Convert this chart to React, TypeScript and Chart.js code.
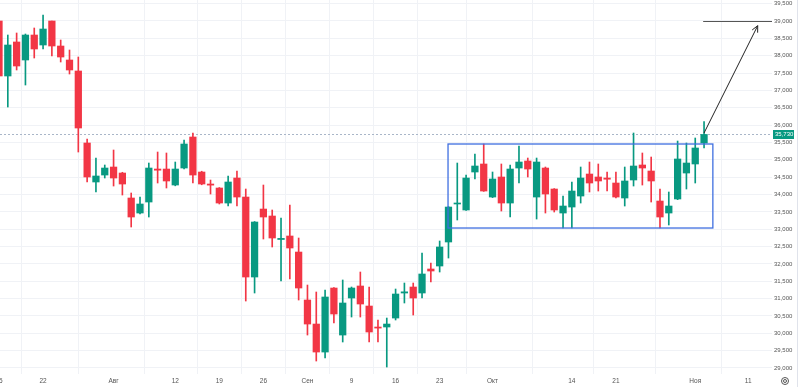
import React, { useEffect, useRef } from "react";
import { Chart, registerables } from "chart.js";
Chart.register(...registerables);

// ---- data (trading-day index 0 = 15 Jul) ----
const opens = [
  39000, 37415, 38395, 37876, 38596, 38308, 39000, 38279, 37876, 37559,
  35484, 34360, 34561, 34792, 34619, 33899, 33466, 33783, 34734, 34734,
  34273, 34763, 35657, 34648, 34302, 34187, 33754, 34475, 33927, 31622,
  33581, 33380, 32703, 32804, 32342, 30959, 30267, 29460, 31305, 29950,
  31017, 31363, 30786, 30181, 30181, 30440, 31161, 31334, 31161, 31853,
  31939, 32631, 33726, 33553, 34648, 34879, 33927, 34504, 33754, 34763,
  34965, 33927, 34763, 34158, 33466, 33639, 33956, 34590, 34504, 34475,
  34331, 33899, 34418, 34850, 34677, 33812, 33466, 33870, 34619, 34879,
  35484,
];
const highs = [
  39050, 38596, 38654, 38625, 38798, 39173, 39000, 38452, 38164, 37962,
  35599, 35051, 34850, 35282, 34640, 34043, 33927, 34907, 35224, 35196,
  34936, 35570, 35772, 34670, 34417, 34200, 34533, 34677, 34158, 33220,
  34273, 33553, 33322, 33697, 32746, 31391, 31190, 31247, 31320, 31536,
  31334, 31766, 31334, 30383, 30440, 31276, 31449, 31449, 32314, 32025,
  32660, 33650, 34907, 34561, 35167, 35455, 34648, 34879, 34850, 35397,
  35051, 35051, 34792, 34170, 33956, 34360, 34792, 34936, 34879, 34648,
  34648, 34792, 35772, 35196, 35080, 34158, 34072, 35541, 35484, 35628,
  36100,
];
const lows = [
  37350, 36521, 37588, 37155, 37933, 38193, 37991, 37818, 37472, 35224,
  34360, 34072, 34475, 34244, 33985, 33063, 33440, 33351, 34331, 34187,
  34250, 34740, 34331, 34280, 34014, 33726, 33668, 33668, 30930, 31161,
  32717, 32487, 31507, 31564, 30959, 29950, 29201, 29287, 30296, 29749,
  30469, 30469, 29749, 29749, 29028, 30383, 30873, 30527, 31017, 31478,
  31766, 32169, 33265, 33540, 34446, 34090, 33910, 33524, 33351, 34331,
  34504, 33293, 33466, 33495, 33034, 33034, 33754, 34072, 34100, 34100,
  33899, 33668, 34244, 34273, 33783, 33034, 33121, 33850, 34158, 34331,
  35340,
];
const closes = [
  37415, 38308, 37703, 38596, 38193, 38769, 38279, 37962, 37588, 35916,
  34504, 34533, 34763, 34475, 34302, 33351, 33726, 34763, 34700, 34389,
  34734, 35455, 34561, 34302, 34270, 33754, 34360, 33927, 31622, 33207,
  33351, 32746, 32735, 32458, 31305, 30267, 29460, 31046, 30556, 30873,
  31305, 30844, 30037, 30150, 30267, 31132, 31195, 31017, 31709, 31795,
  32487, 33639, 33755, 34475, 34821, 34100, 34446, 33754, 34734, 34936,
  34734, 34936, 34014, 33553, 33668, 34100, 34475, 34331, 34389, 34440,
  33927, 34389, 34821, 34763, 34389, 33351, 33668, 35023, 34907, 35340,
  35730,
];

const tickIndex = [0, 5, 13, 20, 25, 30, 35, 40, 45, 50, 56, 65, 70, 79, 85];
const tickLabels = ["15", "22", "Авг", "12", "19", "26", "Сен", "9", "16", "23", "Окт", "14", "21", "Ноя", "11"];
const priceTicks = [
  29000, 29500, 30000, 30500, 31000, 31500, 32000, 32500, 33000, 33500, 34000,
  34500, 35000, 35500, 36000, 36500, 37000, 37500, 38000, 38500, 39000, 39500,
];
const lastPrice = 35730;
const rangeBoxX = [50.95, 81.0];
const rangeBoxY = [35455, 33034];
const targetPrice = 39000;
const targetStartX = 79.9;
const arrowFrom = [80.0, 35772];
const arrowTo = [86.09, 38865];

const UP = "#089981";
const DOWN = "#f23645";
const FONT = "'Liberation Sans', Arial, sans-serif";

export default function App() {
  const ref = useRef<HTMLCanvasElement | null>(null);

  useEffect(() => {
    const canvas = ref.current;
    if (!canvas) return;
    const colors = opens.map((o, i) => (closes[i] >= o ? UP : DOWN));
    const bodies = opens.map((o, i) => ({ x: i, y: [o, closes[i]] }));
    const wicks = lows.map((l, i) => ({ x: i, y: [l, highs[i]] }));

    const overlay = {
      id: "overlay",
      beforeDatasetsDraw(chart: any) {
        const { ctx, chartArea, scales } = chart;
        const y = scales.y.getPixelForValue(lastPrice);
        ctx.save();
        ctx.strokeStyle = "#a9b6c8";
        ctx.lineWidth = 1;
        ctx.setLineDash([2, 2]);
        ctx.beginPath();
        ctx.moveTo(chartArea.left, Math.round(y) + 0.5);
        ctx.lineTo(chartArea.right, Math.round(y) + 0.5);
        ctx.stroke();
        ctx.restore();
      },
      afterDatasetsDraw(chart: any) {
        const { ctx, chartArea, scales } = chart;
        const sx = scales.x, sy = scales.y;
        ctx.save();
        const bx1 = sx.getPixelForValue(rangeBoxX[0]);
        const bx2 = sx.getPixelForValue(rangeBoxX[1]);
        const by1 = sy.getPixelForValue(rangeBoxY[0]);
        const by2 = sy.getPixelForValue(rangeBoxY[1]);
        ctx.strokeStyle = "#3f6fe0";
        ctx.lineWidth = 1.3;
        ctx.strokeRect(bx1, by1, bx2 - bx1, by2 - by1);
        const ty = sy.getPixelForValue(targetPrice);
        ctx.strokeStyle = "#555";
        ctx.lineWidth = 1;
        ctx.beginPath();
        ctx.moveTo(sx.getPixelForValue(targetStartX), Math.round(ty) + 0.5);
        ctx.lineTo(chartArea.right, Math.round(ty) + 0.5);
        ctx.stroke();
        const ax1 = sx.getPixelForValue(arrowFrom[0]);
        const ay1 = sy.getPixelForValue(arrowFrom[1]);
        const ax2 = sx.getPixelForValue(arrowTo[0]);
        const ay2 = sy.getPixelForValue(arrowTo[1]);
        ctx.strokeStyle = "#222";
        ctx.lineWidth = 1;
        ctx.beginPath();
        ctx.moveTo(ax1, ay1);
        ctx.lineTo(ax2, ay2);
        const ang = Math.atan2(ay2 - ay1, ax2 - ax1);
        const L = 7;
        ctx.moveTo(ax2 - L * Math.cos(ang - 0.45), ay2 - L * Math.sin(ang - 0.45));
        ctx.lineTo(ax2, ay2);
        ctx.lineTo(ax2 - L * Math.cos(ang + 0.45), ay2 - L * Math.sin(ang + 0.45));
        ctx.stroke();
        ctx.restore();
      },
      afterDraw(chart: any) {
        const { ctx, chartArea, scales } = chart;
        const y = scales.y.getPixelForValue(lastPrice);
        ctx.save();
        ctx.fillStyle = UP;
        ctx.fillRect(chartArea.right + 1, Math.round(y) - 4, 21, 9);
        ctx.fillStyle = "#fff";
        ctx.font = `6px ${FONT}`;
        ctx.textBaseline = "middle";
        ctx.textAlign = "left";
        ctx.fillText(lastPrice.toLocaleString("en-US"), chartArea.right + 3, Math.round(y) + 0.5);
        ctx.strokeStyle = "#e0e3eb";
        ctx.lineWidth = 1;
        ctx.beginPath();
        ctx.moveTo(797.5, 0);
        ctx.lineTo(797.5, 387);
        ctx.stroke();
        ctx.strokeStyle = "#555";
        ctx.beginPath();
        ctx.arc(785, 381, 3.5, 0, Math.PI * 2);
        ctx.stroke();
        ctx.beginPath();
        ctx.arc(785, 381, 1.5, 0, Math.PI * 2);
        ctx.stroke();
        ctx.restore();
      },
    };

    const chart = new Chart(canvas, {
      type: "bar",
      data: {
        datasets: [
          {
            data: bodies as any,
            backgroundColor: colors,
            borderWidth: 0,
            barThickness: 6.6,
            minBarLength: 1,
            grouped: false,
            order: 1,
          } as any,
          {
            data: wicks as any,
            backgroundColor: colors,
            borderWidth: 0,
            barThickness: 1,
            grouped: false,
            order: 2,
          } as any,
        ],
      },
      plugins: [overlay],
      options: {
        animation: false,
        responsive: false,
        devicePixelRatio: 1,
        layout: { padding: 0, autoPadding: false },
        plugins: { legend: { display: false }, tooltip: { enabled: false } },
        scales: {
          x: {
            type: "linear",
            min: 0.1135,
            max: 87.71,
            offset: false,
            afterBuildTicks: (s: any) => {
              s.ticks = tickIndex.map((v) => ({ value: v }));
            },
            afterFit: (s: any) => {
              s.height = 13;
              s.paddingLeft = 0;
              s.paddingRight = 0;
              s.paddingTop = 0;
              s.paddingBottom = 0;
            },
            ticks: {
              autoSkip: false,
              maxRotation: 0,
              padding: 3,
              color: "#555",
              font: { size: 6.5, family: FONT },
              callback: (_v: any, i: number) => tickLabels[i],
            },
            grid: { color: "#f0f2f6", drawTicks: false },
            border: { display: false },
          },
          y: {
            type: "linear",
            position: "right",
            min: 28827,
            max: 39605,
            afterBuildTicks: (s: any) => {
              s.ticks = priceTicks.map((v) => ({ value: v }));
            },
            afterFit: (s: any) => {
              s.width = 28;
              s.paddingLeft = 0;
              s.paddingRight = 0;
              s.paddingTop = 0;
              s.paddingBottom = 0;
            },
            ticks: {
              padding: 2,
              color: "#555",
              font: { size: 6, family: FONT },
              callback: (v: any) => Number(v).toLocaleString("en-US"),
            },
            grid: { color: "#f0f2f6", drawTicks: false },
            border: { display: false },
          },
        },
      } as any,
    });
    return () => chart.destroy();
  }, []);

  return (
    <div style={{ position: "absolute", left: 0, top: 0, width: 800, height: 387, background: "#fff" }}>
      <canvas ref={ref} width={800} height={387} style={{ display: "block", width: 800, height: 387 }} />
    </div>
  );
}
